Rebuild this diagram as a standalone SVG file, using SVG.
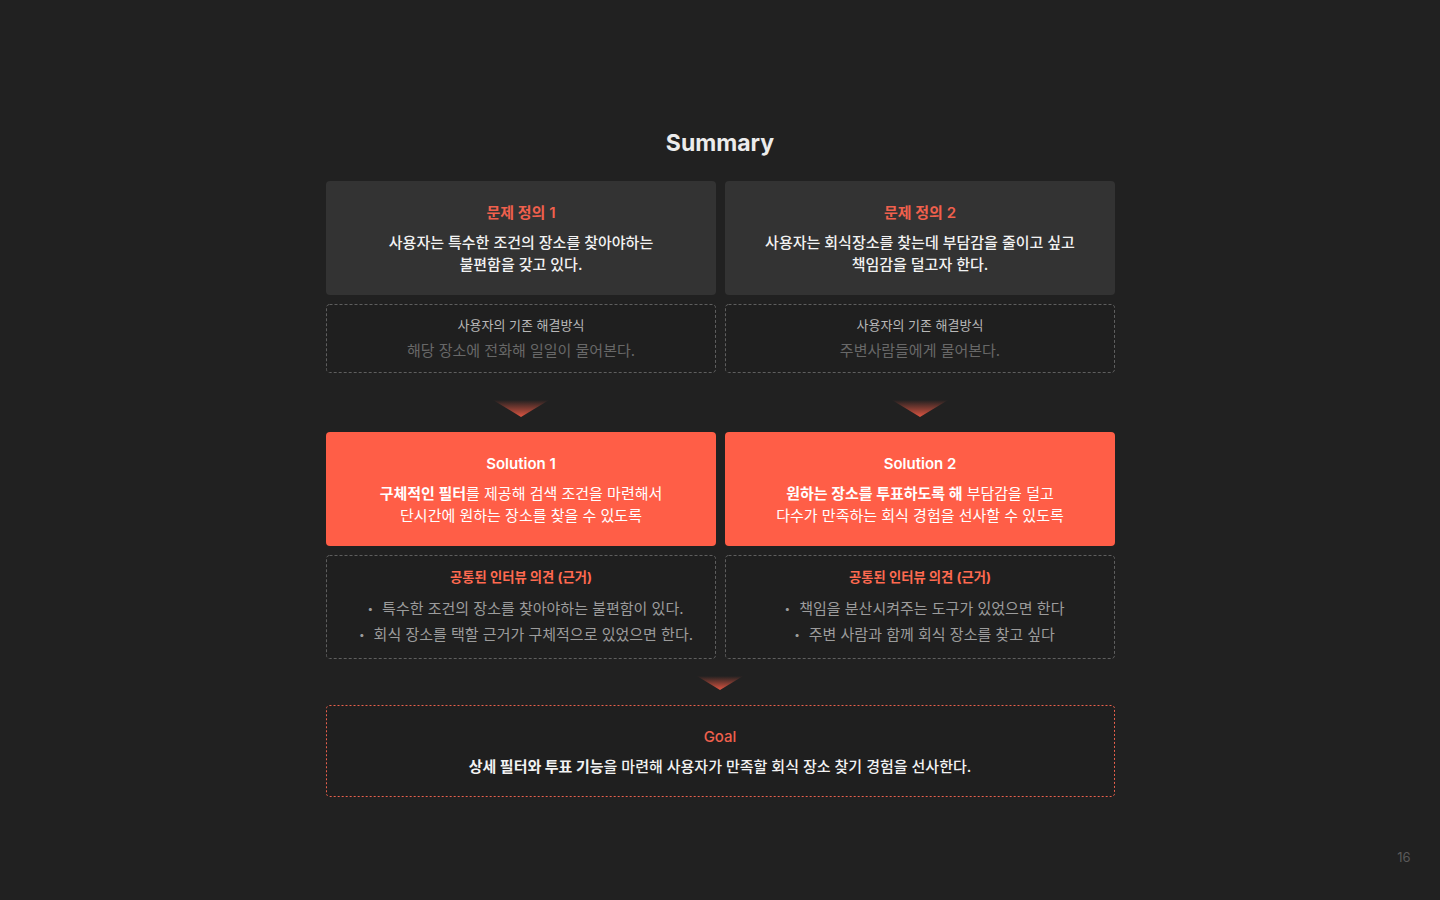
<svg xmlns="http://www.w3.org/2000/svg" width="1440" height="900" viewBox="0 0 1440 900">
<defs>
<linearGradient id="arrowGrad" x1="0" y1="0" x2="0" y2="1">
<stop offset="0" stop-color="#ff5e47" stop-opacity="0"/>
<stop offset="1" stop-color="#ff5e47" stop-opacity="0.85"/>
</linearGradient>
<style>
text{font-family:Inter,"Noto Sans CJK KR",sans-serif;text-anchor:middle;dominant-baseline:central}
.title{font-size:23px;font-weight:700;fill:#ececec}
.card{fill:#333333}
.sol{fill:#ff5e47}
.dash{fill:#1f1f1f;stroke:#5e5e5e;stroke-width:1;stroke-dasharray:3 2}
.goal{fill:#1f1f1f;stroke:#e8604c;stroke-width:1;stroke-dasharray:2 2}
.head{font-size:15px;font-weight:600;fill:#f0604d}
.body{font-size:15px;font-weight:500;fill:#f2f2f2}
.small{font-size:13px;fill:#b8b8b8}
.muted{font-size:15px;fill:#686868}
.solh{font-size:15px;font-weight:600;fill:#ffffff}
.solb{font-size:15px;fill:#ffffff}
.ih{font-size:13.3px;font-weight:700;fill:#ff6a50}
.bul{font-size:15px;fill:#9c9c9c}
.b{font-weight:700}
.page{font-size:13px;fill:#5a5a5a}
</style>
</defs>
<rect width="1440" height="900" fill="#212121"/>
<text class="title" x="720" y="143">Summary</text>

<g id="problem1">
<rect class="card" x="326" y="181" width="390" height="114" rx="4"/>
<text class="head" x="521" y="212">문제 정의 1</text>
<text class="body" x="521" y="242">사용자는 특수한 조건의 장소를 찾아야하는</text>
<text class="body" x="521" y="264">불편함을 갖고 있다.</text>
</g>
<g id="problem2">
<rect class="card" x="725" y="181" width="390" height="114" rx="4"/>
<text class="head" x="920" y="212">문제 정의 2</text>
<text class="body" x="920" y="242">사용자는 회식장소를 찾는데 부담감을 줄이고 싶고</text>
<text class="body" x="920" y="264">책임감을 덜고자 한다.</text>
</g>
<g id="existing1">
<rect class="dash" x="326.5" y="304.5" width="389" height="68" rx="3"/>
<text class="small" x="521" y="325">사용자의 기존 해결방식</text>
<text class="muted" x="521" y="350">해당 장소에 전화해 일일이 물어본다.</text>
</g>
<g id="existing2">
<rect class="dash" x="725.5" y="304.5" width="389" height="68" rx="3"/>
<text class="small" x="920" y="325">사용자의 기존 해결방식</text>
<text class="muted" x="920" y="350">주변사람들에게 물어본다.</text>
</g>

<g id="connectors">
<polygon points="493,400 549,400 521,417" fill="url(#arrowGrad)"/>
<polygon points="892,400 948,400 920,417" fill="url(#arrowGrad)"/>
<polygon points="697,676 743,676 720,690" fill="url(#arrowGrad)"/>
</g>

<g id="solution1">
<rect class="sol" x="326" y="432" width="390" height="114" rx="4"/>
<text class="solh" x="521" y="463">Solution 1</text>
<text class="solb" x="521" y="493"><tspan class="b">구체적인 필터</tspan>를 제공해 검색 조건을 마련해서</text>
<text class="solb" x="521" y="515">단시간에 원하는 장소를 찾을 수 있도록</text>
</g>
<g id="solution2">
<rect class="sol" x="725" y="432" width="390" height="114" rx="4"/>
<text class="solh" x="920" y="463">Solution 2</text>
<text class="solb" x="920" y="493"><tspan class="b">원하는 장소를 투표하도록 해</tspan> 부담감을 덜고</text>
<text class="solb" x="920" y="515">다수가 만족하는 회식 경험을 선사할 수 있도록</text>
</g>
<g id="evidence1">
<rect class="dash" x="326.5" y="555.5" width="389" height="103" rx="3"/>
<text class="ih" x="521" y="577">공통된 인터뷰 의견 (근거)</text>
<text class="bul" x="525.5" y="608"><tspan font-size="10">•</tspan><tspan dx="9">특수한 조건의 장소를 찾아야하는 불편함이 있다.</tspan></text>
<text class="bul" x="526" y="634"><tspan font-size="10">•</tspan><tspan dx="9">회식 장소를 택할 근거가 구체적으로 있었으면 한다.</tspan></text>
</g>
<g id="evidence2">
<rect class="dash" x="725.5" y="555.5" width="389" height="103" rx="3"/>
<text class="ih" x="920" y="577">공통된 인터뷰 의견 (근거)</text>
<text class="bul" x="924.5" y="608"><tspan font-size="10">•</tspan><tspan dx="9">책임을 분산시켜주는 도구가 있었으면 한다</tspan></text>
<text class="bul" x="924.5" y="634"><tspan font-size="10">•</tspan><tspan dx="9">주변 사람과 함께 회식 장소를 찾고 싶다</tspan></text>
</g>
<g id="goal">
<rect class="goal" x="326.5" y="705.5" width="788" height="91" rx="3"/>
<text class="head" x="720" y="736" style="font-weight:500">Goal</text>
<text class="body" x="720" y="766"><tspan class="b">상세 필터와 투표 기능</tspan>을 마련해 사용자가 만족할 회식 장소 찾기 경험을 선사한다.</text>
</g>
<text class="page" x="1404" y="857">16</text>
</svg>
